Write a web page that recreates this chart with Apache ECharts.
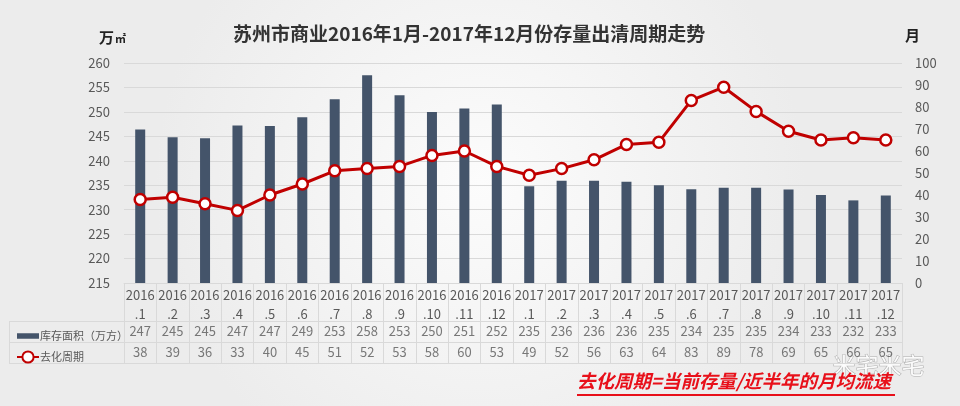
<!DOCTYPE html>
<html>
<head>
<meta charset="utf-8">
<script src="https://cdn.jsdelivr.net/npm/echarts@6/dist/echarts.min.js"></script>
<style>
  html, body { margin: 0; padding: 0; }
  #main { width: 960px; height: 406px; }
</style>
</head>
<body>
<div id="main"></div>
<script>
  // 月份（表头两行）
  var years = ['2016','2016','2016','2016','2016','2016','2016','2016','2016','2016','2016','2016',
               '2017','2017','2017','2017','2017','2017','2017','2017','2017','2017','2017','2017'];
  var months = ['.1','.2','.3','.4','.5','.6','.7','.8','.9','.10','.11','.12',
                '.1','.2','.3','.4','.5','.6','.7','.8','.9','.10','.11','.12'];
  // 库存面积（柱高，从图上读）
  var stockBars = [246.4, 244.8, 244.6, 247.2, 247.1, 248.9, 252.6, 257.5, 253.4, 250.0, 250.7, 251.5,
                   234.8, 235.9, 235.9, 235.7, 235.0, 234.2, 234.5, 234.5, 234.1, 233.0, 231.9, 232.9];
  // 表格里显示的库存面积
  var stockTable = [247, 245, 245, 247, 247, 249, 253, 258, 253, 250, 251, 252,
                    235, 236, 236, 236, 235, 234, 235, 235, 234, 233, 232, 233];
  // 去化周期（月）
  var cycle = [38, 39, 36, 33, 40, 45, 51, 52, 53, 58, 60, 53,
               49, 52, 56, 63, 64, 83, 89, 78, 69, 65, 66, 65];

  var categories = years.map(function (y, i) { return y + '\n' + months[i]; });
  var rowNames = ['去化周期', '库存面积（万方）'];

  var lineClr = '#d9d9d9';
  var txtClr = '#595959';
  var font = '"Noto Sans CJK SC", "Noto Sans", sans-serif';

  var chart = echarts.init(document.getElementById('main'));

  chart.setOption({
    backgroundColor: {
      type: 'radial', x: 0.5, y: 0.45, r: 0.8,
      colorStops: [{offset: 0, color: '#fcfcfc'}, {offset: 1, color: '#ececec'}]
    },
    textStyle: {fontFamily: font},
    title: {
      text: '苏州市商业2016年1月-2017年12月份存量出清周期走势',
      left: 228, top: 19,
      textStyle: {fontSize: 19, fontWeight: 'bold', color: '#333', fontFamily: font}
    },
    legend: {
      data: [
        {name: '库存面积（万方）', icon: 'path://M0,0H20V5H0Z'},
        {name: '去化周期'}
      ],
      orient: 'vertical',
      left: 11, top: 324,
      itemWidth: 22, itemHeight: 14, itemGap: 7,
      textStyle: {color: txtClr, fontSize: 11, lineHeight: 14, padding: [0, 0, 0, -4]},
      selectedMode: false
    },
    grid: [
      {left: 124, right: 58, top: 63, bottom: 123},
      {left: 124, right: 58, top: 321, bottom: 43}
    ],
    xAxis: [
      {
        type: 'category', data: categories, gridIndex: 0,
        axisLine: {lineStyle: {color: lineClr}},
        axisTick: {show: true, interval: 0, length: 38, lineStyle: {color: lineClr}},
        axisLabel: {interval: 0, color: txtClr, fontSize: 13, lineHeight: 19, margin: 3}
      },
      {
        type: 'category', data: categories, gridIndex: 1,
        axisLine: {show: false}, axisTick: {show: false}, axisLabel: {show: false},
        splitLine: {show: true, interval: 0, lineStyle: {color: lineClr}}
      }
    ],
    yAxis: [
      {
        type: 'value', min: 215, max: 260, interval: 5, gridIndex: 0,
        name: '{a|万}{b|㎡}', nameGap: 18,
        nameTextStyle: {
          align: 'right', padding: [0, -2, 0, 0],
          rich: {
            a: {color: '#222', fontSize: 15, fontWeight: 'bold', fontFamily: font},
            b: {color: '#222', fontSize: 11, fontWeight: 'bold', fontFamily: font, padding: [3, 0, 0, 1]}
          }
        },
        axisLine: {show: false}, axisTick: {show: false},
        axisLabel: {color: txtClr, fontSize: 13, margin: 14},
        splitLine: {lineStyle: {color: lineClr}}
      },
      {
        type: 'value', min: 0, max: 100, interval: 10, gridIndex: 0, position: 'right',
        name: '月', nameGap: 20,
        nameTextStyle: {color: '#222', fontSize: 15, fontWeight: 'bold', align: 'left', padding: [0, 0, 0, 3]},
        axisLine: {show: false}, axisTick: {show: false},
        axisLabel: {color: txtClr, fontSize: 13, margin: 13},
        splitLine: {show: false}
      },
      {
        type: 'category', data: rowNames, gridIndex: 1,
        axisLine: {show: false}, axisLabel: {show: false},
        axisTick: {show: true, interval: 0, length: 115, lineStyle: {color: lineClr}},
        splitLine: {show: true, interval: 0, lineStyle: {color: lineClr}}
      }
    ],
    series: [
      {
        name: '库存面积（万方）', type: 'bar', data: stockBars,
        xAxisIndex: 0, yAxisIndex: 0, barWidth: 10,
        itemStyle: {color: '#44546a'}
      },
      {
        name: '去化周期', type: 'line', data: cycle,
        xAxisIndex: 0, yAxisIndex: 1,
        symbol: 'circle', symbolSize: 11,
        lineStyle: {color: '#c00000', width: 3},
        itemStyle: {color: '#ffffff', borderColor: '#c00000', borderWidth: 2.5}
      },
      {
        name: '表-库存', type: 'scatter', xAxisIndex: 1, yAxisIndex: 2,
        symbolSize: 1, itemStyle: {color: 'rgba(0,0,0,0)'},
        data: stockTable.map(function (v, i) { return [i, rowNames[1], v]; }),
        label: {show: true, position: 'inside', color: txtClr, fontSize: 13,
                formatter: function (p) { return p.value[2]; }},
        silent: true
      },
      {
        name: '表-周期', type: 'scatter', xAxisIndex: 1, yAxisIndex: 2,
        symbolSize: 1, itemStyle: {color: 'rgba(0,0,0,0)'},
        data: cycle.map(function (v, i) { return [i, rowNames[0], v]; }),
        label: {show: true, position: 'inside', color: txtClr, fontSize: 13,
                formatter: function (p) { return p.value[2]; }},
        silent: true
      }
    ],
    graphic: [
      // 图例列左边框
      {type: 'line', shape: {x1: 9.5, y1: 321, x2: 9.5, y2: 363}, style: {stroke: lineClr, lineWidth: 1}},
      // 水印
      {type: 'text', left: 832, top: 353,
       style: {text: '米宅米宅', fill: 'rgba(255,255,255,0.9)', stroke: 'rgba(120,120,120,0.55)', lineWidth: 1,
               font: '23px ' + font}},
      // 注释
      {type: 'text', left: 577, top: 372,
       style: {text: '去化周期=当前存量/近半年的月均流速', fill: '#e8101a',
               font: 'italic bold 18.5px ' + font}},
      {type: 'line', shape: {x1: 577, y1: 395, x2: 895, y2: 395}, style: {stroke: '#e8101a', lineWidth: 2}}
    ]
  });
</script>
</body>
</html>
